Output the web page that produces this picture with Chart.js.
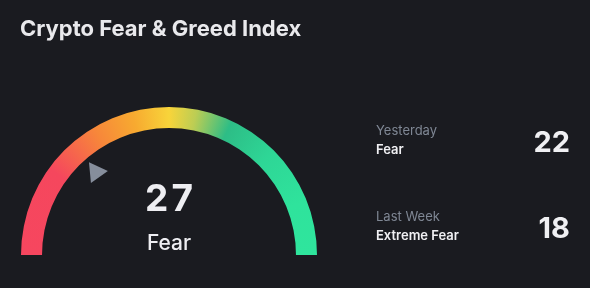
<!DOCTYPE html>
<html>
<head>
<meta charset="utf-8">
<script src="https://cdn.jsdelivr.net/npm/chart.js@4.4.1/dist/chart.umd.min.js"></script>
<style>
  html, body { margin: 0; padding: 0; background: #1a1b20; }
  #wrap { width: 590px; height: 288px; position: relative; }
</style>
</head>
<body>
<div id="wrap"><canvas id="fearGreed" width="590" height="288"></canvas></div>
<script>
// data ---------------------------------------------------
const chartTitle = "Crypto Fear & Greed Index";
const gaugeMin = 0;
const gaugeMax = 100;
const currentValue = 27;
const currentLabel = "Fear";
const historyNames = ["Yesterday", "Last Week"];
const historyLabels = ["Fear", "Extreme Fear"];
const historyValues = [22, 18];

// gauge colour stops (0 = left end, 1 = right end)
const stopPos = [0, 0.2, 0.33, 0.42, 0.5, 0.56, 0.64, 0.75, 0.88, 1];
const stopColors = ["#f6465f", "#f5475d", "#f7873a", "#f7aa30", "#f8d43a", "#bccd54", "#2dbd86", "#2ed696", "#2fe39c", "#2fe59d"];

const FONT = 'Inter, "Noto Sans", sans-serif';

function gaugeGradient(context) {
  const { ctx, chartArea } = context.chart;
  if (!chartArea) return stopColors[0];
  const cx = (chartArea.left + chartArea.right) / 2;
  const cy = chartArea.bottom;
  const g = ctx.createConicGradient(Math.PI, cx, cy);
  stopPos.forEach((p, i) => g.addColorStop(p * 0.5, stopColors[i]));
  g.addColorStop(1, stopColors[0]);
  return g;
}

// 텍스트 + 포인터
const gaugeExtras = {
  id: "gaugeExtras",
  afterDraw(chart) {
    const ctx = chart.ctx;
    const arc = chart.getDatasetMeta(0).data[0];
    const { x, y, innerRadius, startAngle, endAngle } = arc.getProps(["x", "y", "innerRadius", "startAngle", "endAngle"], true);

    ctx.save();
    // title
    ctx.fillStyle = "#e9e9ec";
    ctx.font = "700 22px " + FONT;
    ctx.textAlign = "left";
    ctx.textBaseline = "alphabetic";
    ctx.fillText(chartTitle, 20, 36);

    // pointer
    const t = (currentValue - gaugeMin) / (gaugeMax - gaugeMin);
    const ang = startAngle + t * (endAngle - startAngle);
    const pr = innerRadius - 16.5;
    const px = x + Math.cos(ang) * pr;
    const py = y + Math.sin(ang) * pr;
    const dir = ang + Math.PI - (54 * Math.PI) / 180;
    ctx.fillStyle = "#868e9c";
    ctx.beginPath();
    for (let k = 0; k < 3; k++) {
      const a = dir + (k * 2 * Math.PI) / 3;
      const vx = px + Math.cos(a) * 12;
      const vy = py + Math.sin(a) * 12;
      k === 0 ? ctx.moveTo(vx, vy) : ctx.lineTo(vx, vy);
    }
    ctx.closePath();
    ctx.fill();

    // center value
    ctx.textAlign = "center";
    ctx.fillStyle = "#eeeef2";
    ctx.font = "700 37px " + FONT;
    ctx.letterSpacing = "3px";
    ctx.fillText(String(currentValue), x + 1.5, 211);
    ctx.letterSpacing = "0px";
    ctx.font = "500 21px " + FONT;
    ctx.fillText(currentLabel, x, 250);

    // history rows
    const rowY = [135, 221];
    historyNames.forEach((name, i) => {
      ctx.textAlign = "left";
      ctx.fillStyle = "#7f8794";
      ctx.font = "400 13px " + FONT;
      ctx.fillText(name, 376, rowY[i]);
      ctx.fillStyle = "#f0f0f3";
      ctx.font = "600 13px " + FONT;
      ctx.fillText(historyLabels[i], 376, rowY[i] + 19);
      ctx.textAlign = "right";
      ctx.font = "700 29px " + FONT;
      ctx.fillText(String(historyValues[i]), 570, rowY[i] + 17);
    });
    ctx.restore();
  },
};

function fearGreed_chart() {
  const ctx = document.getElementById("fearGreed").getContext("2d");
  const config = {
    type: "doughnut",
    data: {
      labels: ["Index"],
      datasets: [
        {
          data: [gaugeMax - gaugeMin],
          backgroundColor: gaugeGradient,
          borderWidth: 0,
          hoverOffset: 0,
        },
      ],
    },
    options: {
      responsive: false,
      animation: false,
      rotation: -90,
      circumference: 180,
      cutout: "85.8%",
      layout: {
        padding: { left: 21, right: 273, top: 107, bottom: 33 },
      },
      plugins: {
        legend: { display: false },
        tooltip: { enabled: false },
      },
    },
    plugins: [gaugeExtras],
  };
  new Chart(ctx, config);
}
fearGreed_chart();
</script>
</body>
</html>
